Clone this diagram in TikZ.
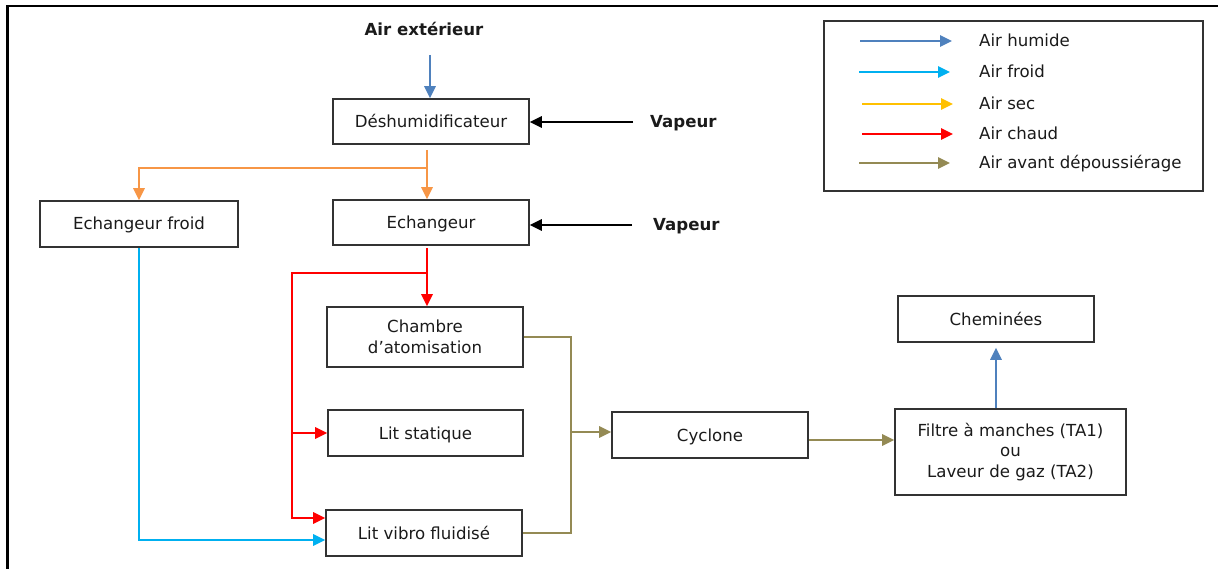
\documentclass[tikz,border=0pt]{standalone}
\usepackage{fontspec}
\setmainfont{DejaVu Sans}
\usetikzlibrary{arrows.meta}
\definecolor{humid}{HTML}{4F81BD}
\definecolor{froid}{HTML}{00B0F0}
\definecolor{sec}{HTML}{FFC000}
\definecolor{secdiag}{HTML}{F79646}
\definecolor{chaud}{HTML}{FF0000}
\definecolor{depous}{HTML}{948A54}
\definecolor{boxline}{HTML}{333333}
\definecolor{txt}{HTML}{1A1A1A}

\begin{document}
\begin{tikzpicture}[x=1pt,y=-1pt,
  every node/.style={font=\fontsize{16.6}{20.5}\selectfont, text=txt},
  box/.style={draw=boxline, line width=1.7pt, minimum width=196pt, minimum height=45pt,
    inner sep=0pt, align=center},
  boxone/.style={box, text height=15pt, text depth=3pt},
  lbl/.style={inner sep=0pt, text height=15pt, text depth=3pt},
  title/.style={lbl, font=\fontsize{16.6}{20.5}\selectfont\bfseries},
  wire/.style={line width=1.7pt},
  flow/.style={wire, -{Triangle[length=12pt,width=11.5pt]}},
]
\useasboundingbox (0,0) rectangle (1218,569);

% outer frame (top and left edges)
\draw[line width=2.6pt, line cap=rect] (7.7,569) -- (7.7,6.2) -- (1218,6.2);

% process boxes
\node[boxone] (deshu) at (431,121.5) {Déshumidificateur};
\node[boxone, minimum width=198pt, minimum height=46pt] (echf) at (139,224) {Echangeur froid};
\node[boxone] (ech) at (431,222.5) {Echangeur};
\node[box, minimum height=60pt] (chamb) at (425,337) {Chambre\\d’atomisation};
\node[boxone, minimum width=195pt, minimum height=46pt] (stat) at (425.5,433) {Lit statique};
\node[boxone, minimum height=46pt] (vib) at (424,533) {Lit vibro fluidisé};
\node[boxone, minimum height=46pt] (cyc) at (710,435) {Cyclone};
\node[box, minimum width=231pt, minimum height=86pt] (filt) at (1010.5,452)
  {Filtre à manches (TA1)\\ou\\Laveur de gaz (TA2)};
\node[boxone, minimum height=46pt] (chem) at (996,319) {Cheminées};

% inputs
\node[title] (airext) at (424,30) {Air extérieur};
\node[title, anchor=west] (vap1) at (650,122) {Vapeur};
\node[title, anchor=west] (vap2) at (653,225) {Vapeur};

\coordinate (a0) at (430,55);
\draw[flow, humid] (a0) -- (a0 |- deshu.north);
\draw[flow, black] ([xshift=-17pt]vap1.west) -- (vap1.west -| deshu.east);
\draw[flow, black] ([xshift=-21pt]vap2.west) -- (vap2.west -| ech.east);

% dry air
\coordinate (o1) at (427,150);
\coordinate (o2) at (427,168);
\draw[flow, secdiag] (o1) -- (o1 |- ech.north);
\draw[flow, secdiag] (o2) -| (echf.north);

% hot air
\coordinate (r1) at (427,248);
\coordinate (r2) at (427,273);
\coordinate (r3) at (292,273);
\draw[flow, chaud] (r1) -- (r1 |- chamb.north);
\draw[flow, chaud] (r2) -- (r3) |- ([yshift=15pt]vib.west);
\draw[flow, chaud] (r3 |- stat.west) -- (stat.west);

% cold air
\draw[flow, froid] (echf.south) |- ([yshift=-7pt]vib.west);

% air before dust removal
\coordinate (m) at (571,432);
\draw[wire, depous] (chamb.east) -| (m) |- (vib.east);
\draw[flow, depous] (m) -- (m -| cyc.west);
\draw[flow, depous] ([yshift=-5pt]cyc.east) -- ([yshift=-5pt]cyc.east -| filt.west);

% exhaust
\draw[flow, humid] (chem.south |- filt.north) -- ([yshift=-5pt]chem.south);

% legend
\node[draw=boxline, line width=1.7pt, minimum width=379pt, minimum height=170pt, inner sep=0pt]
  (legend) at (1013.5,106) {};
\node[lbl, anchor=west] (lh) at (979,41) {Air humide};
\node[lbl, anchor=west] (lf) at (979,72) {Air froid};
\node[lbl, anchor=west] (ls) at (979,104) {Air sec};
\node[lbl, anchor=west] (lc) at (979,134) {Air chaud};
\node[lbl, anchor=west] (ld) at (979,163) {Air avant dépoussiérage};
\draw[flow, humid] ([xshift=-119pt]lh.west) -- ([xshift=-27pt]lh.west);
\draw[flow, froid] ([xshift=-120pt]lf.west) -- ([xshift=-29pt]lf.west);
\draw[flow, sec] ([xshift=-117pt]ls.west) -- ([xshift=-26pt]ls.west);
\draw[flow, chaud] ([xshift=-117pt]lc.west) -- ([xshift=-26pt]lc.west);
\draw[flow, depous] ([xshift=-120pt]ld.west) -- ([xshift=-29pt]ld.west);
\end{tikzpicture}
\end{document}
